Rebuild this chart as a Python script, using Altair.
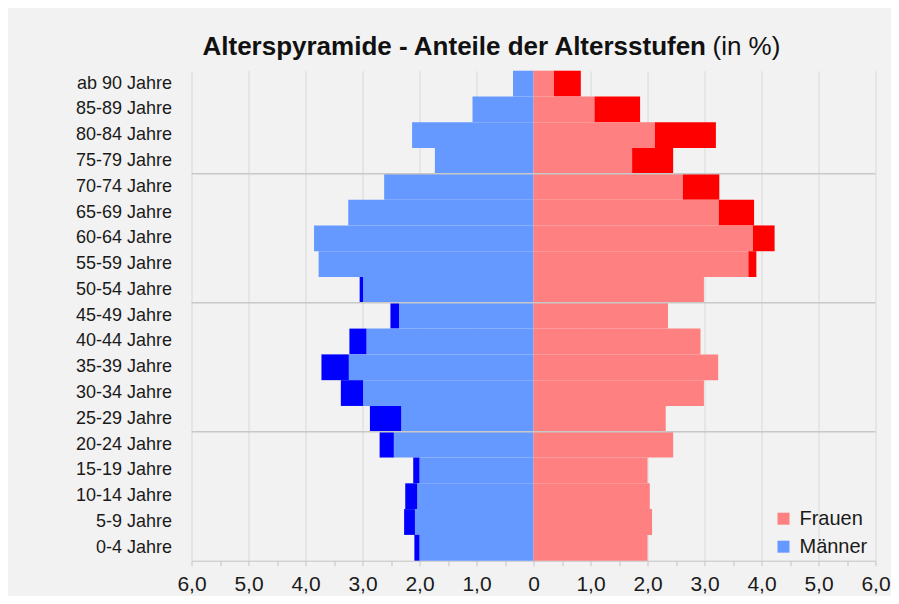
import altair as alt
import pandas as pd

ages = ["ab 90 Jahre", "85-89 Jahre", "80-84 Jahre", "75-79 Jahre", "70-74 Jahre",
        "65-69 Jahre", "60-64 Jahre", "55-59 Jahre", "50-54 Jahre", "45-49 Jahre",
        "40-44 Jahre", "35-39 Jahre", "30-34 Jahre", "25-29 Jahre", "20-24 Jahre",
        "15-19 Jahre", "10-14 Jahre", "5-9 Jahre", "0-4 Jahre"]
maenner = [0.36, 1.07, 2.13, 1.73, 2.62, 3.25, 3.85, 3.77, 3.05, 2.51,
           3.23, 3.72, 3.38, 2.87, 2.70, 2.11, 2.25, 2.27, 2.09]
frauen = [0.83, 1.87, 3.20, 2.45, 3.26, 3.87, 4.23, 3.91, 2.99, 2.36,
          2.93, 3.24, 2.99, 2.32, 2.45, 2.00, 2.04, 2.08, 2.00]
x_ticks = [-6.0, -5.5, -5.0, -4.5, -4.0, -3.5, -3.0, -2.5, -2.0, -1.5, -1.0, -0.5, 0.0,
           0.5, 1.0, 1.5, 2.0, 2.5, 3.0, 3.5, 4.0, 4.5, 5.0, 5.5, 6.0]
grid_bands = ["70-74 Jahre", "45-49 Jahre", "20-24 Jahre"]
title_bold = "Alterspyramide - Anteile der Altersstufen"
title_rest = "(in %)"

FONT = "Liberation Sans, Arial, sans-serif"
TXT = "#1a1a1a"

rows = []
for a, m, f in zip(ages, maenner, frauen):
    lo = min(m, f)
    rows.append({"age": a, "kind": "Männer", "x": -lo, "x2": 0.0})
    rows.append({"age": a, "kind": "Frauen", "x": 0.0, "x2": lo})
    if m > f:
        rows.append({"age": a, "kind": "Männer+", "x": -m, "x2": -lo})
    if f > m:
        rows.append({"age": a, "kind": "Frauen+", "x": lo, "x2": f})
df = pd.DataFrame(rows)

yscale = alt.Scale(domain=ages, paddingInner=0, paddingOuter=0)
xscale = alt.Scale(domain=[-6, 6], nice=False)

label_expr = ("datum.value % 1 != 0 ? '' : (datum.value == 0 ? '0' : "
              "replace(format(abs(datum.value), '.1f'), '.', ','))")

bars = alt.Chart(df).mark_bar().encode(
    x=alt.X("x:Q", scale=xscale, axis=alt.Axis(
        values=x_ticks, labelExpr=label_expr, title=None,
        grid=True, gridColor="#d9d9d9", gridWidth=1,
        gridOpacity={"condition": {"test": "datum.value % 1 != 0", "value": 0}, "value": 1},
        tickSize=5, tickColor="#c4c4c4", domainColor="#c4c4c4",
        labelFont=FONT, labelFontSize=21, labelColor=TXT, labelPadding=8,
        labelOverlap=False, labelFlush=False, labelBound=False)),
    x2="x2:Q",
    y=alt.Y("age:N", scale=yscale, axis=alt.Axis(
        title=None, domain=False, ticks=False, grid=False,
        labelFont=FONT, labelFontSize=18, labelColor=TXT, labelPadding=20)),
    color=alt.Color("kind:N", scale=alt.Scale(
        domain=["Frauen", "Männer", "Frauen+", "Männer+"],
        range=["#FF8080", "#6699FF", "#FF0000", "#0000FF"]),
        legend=alt.Legend(values=["Frauen", "Männer"], orient="none",
                          legendX=582, legendY=438, title=None, padding=0,
                          symbolType="square", symbolSize=144, symbolStrokeWidth=0,
                          labelFont=FONT, labelFontSize=20, labelColor=TXT,
                          labelOffset=6, rowPadding=8)),
)

rules = alt.Chart(pd.DataFrame({"age": grid_bands})).mark_rule(
    color="#c8c8c8", strokeWidth=1.5).encode(
    y=alt.Y("age:N", scale=yscale, bandPosition=0))

t1 = alt.Chart(pd.DataFrame({"t": [title_bold]})).mark_text(
    align="right", baseline="alphabetic", font=FONT, fontSize=26,
    fontWeight="bold", color="#111111").encode(
    x=alt.value(514.5), y=alt.value(-16), text="t:N")
t2 = alt.Chart(pd.DataFrame({"t": [title_rest]})).mark_text(
    align="left", baseline="alphabetic", font=FONT, fontSize=26,
    color="#111111").encode(
    x=alt.value(521), y=alt.value(-16), text="t:N")

chart = alt.layer(bars, rules, t1, t2).properties(
    width=684, height=490,
    background="#f2f2f2",
    autosize=alt.AutoSizeParams(type="none"),
    padding={"left": 183.5, "top": 62.7, "right": 15, "bottom": 35},
).configure_view(stroke=None)

chart.save("out.html", embed_options={"renderer": "svg", "actions": False})
